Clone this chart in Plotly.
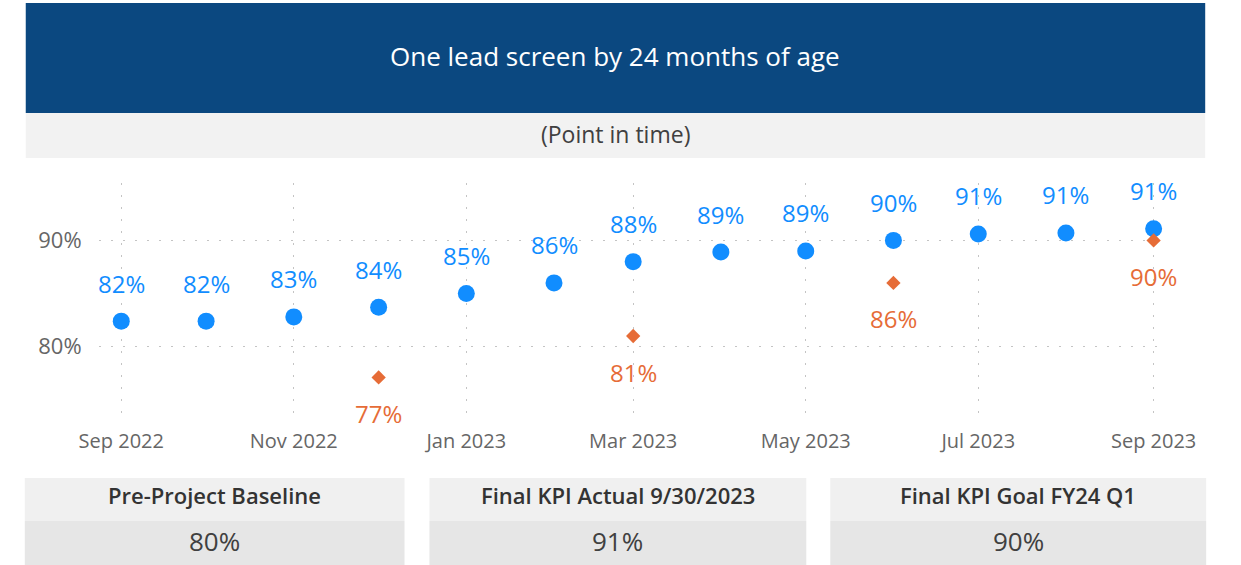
import plotly.graph_objects as go

# ---- data ----
months = ["2022-09-01", "2022-10-01", "2022-11-01", "2022-12-01", "2023-01-01",
          "2023-02-01", "2023-03-01", "2023-04-01", "2023-05-01", "2023-06-01",
          "2023-07-01", "2023-08-01", "2023-09-01"]
actual = [82.4, 82.4, 82.8, 83.7, 85.0, 86.0, 88.0, 88.9, 89.0, 90.0, 90.6, 90.7, 91.1]
actual_labels = ["82%", "82%", "83%", "84%", "85%", "86%", "88%", "89%", "89%", "90%", "91%", "91%", "91%"]

goal_months = ["2022-12-01", "2023-03-01", "2023-06-01", "2023-09-01"]
goal = [77.1, 81.0, 86.0, 90.0]
goal_labels = ["77%", "81%", "86%", "90%"]

y_tickvals = [80, 90]
y_ticktext = ["80%", "90%"]

title_text = "One lead screen by 24 months of age"
subtitle_text = "(Point in time)"
card_titles = ["Pre-Project Baseline", "Final KPI Actual 9/30/2023", "Final KPI Goal FY24 Q1"]
card_values = ["80%", "91%", "90%"]

# ---- styles ----
W, H = 1241, 565
FONT = "Open Sans"
BLUE = "#118DFF"
ORANGE = "#E66C37"
NAVY = "#0B4880"


def py(pix):
    """pixel-from-top -> paper y"""
    return 1 - pix / H


def px(pix):
    return pix / W


fig = go.Figure()

fig.add_trace(go.Scatter(
    x=months, y=actual, mode="markers",
    marker=dict(symbol="circle", size=17, color=BLUE, line=dict(width=0)),
    hoverinfo="skip", showlegend=False,
))
fig.add_trace(go.Scatter(
    x=goal_months, y=goal, mode="markers",
    marker=dict(symbol="diamond", size=11, color=ORANGE, line=dict(width=0)),
    hoverinfo="skip", showlegend=False,
))

annotations = []
for xv, yv, t in zip(months, actual, actual_labels):
    annotations.append(dict(x=xv, y=yv, xref="x", yref="y", text=t, showarrow=False,
                            yshift=38, font=dict(family=FONT, size=24, color=BLUE)))
for xv, yv, t in zip(goal_months, goal, goal_labels):
    annotations.append(dict(x=xv, y=yv, xref="x", yref="y", text=t, showarrow=False,
                            yshift=-36, font=dict(family=FONT, size=24, color=ORANGE)))

shapes = []
# title banner
shapes.append(dict(type="rect", xref="paper", yref="paper", x0=px(6), x1=px(1236),
                   y0=py(113), y1=py(3), fillcolor=NAVY, line=dict(width=0), layer="below"))
# subtitle band
shapes.append(dict(type="rect", xref="paper", yref="paper", x0=px(6), x1=px(1236),
                   y0=py(158), y1=py(113), fillcolor="#F2F2F2", line=dict(width=0), layer="below"))
annotations.append(dict(x=px(621), y=py(56), xref="paper", yref="paper", text=title_text,
                        showarrow=False, xanchor="center", yanchor="middle",
                        font=dict(family=FONT, size=26, color="white")))
annotations.append(dict(x=px(621), y=py(134), xref="paper", yref="paper", text=subtitle_text,
                        showarrow=False, xanchor="center", yanchor="middle",
                        font=dict(family=FONT, size=23, color="#404040")))

# cards
card_x = [(5, 401), (427, 820), (845, 1237)]
for (x0, x1), t, v in zip(card_x, card_titles, card_values):
    shapes.append(dict(type="rect", xref="paper", yref="paper", x0=px(x0), x1=px(x1),
                       y0=py(521), y1=py(478), fillcolor="#F0F0F0", line=dict(width=0), layer="below"))
    shapes.append(dict(type="rect", xref="paper", yref="paper", x0=px(x0), x1=px(x1),
                       y0=0, y1=py(521), fillcolor="#E6E6E6", line=dict(width=0), layer="below"))
    cx = (x0 + x1) / 2
    annotations.append(dict(x=px(cx), y=py(495), xref="paper", yref="paper", text=t,
                            showarrow=False, xanchor="center", yanchor="middle",
                            font=dict(family=FONT, size=22, color="#333333", weight=600)))
    annotations.append(dict(x=px(cx), y=py(541), xref="paper", yref="paper", text=v,
                            showarrow=False, xanchor="center", yanchor="middle",
                            font=dict(family=FONT, size=26, color="#404040")))

fig.update_layout(
    width=W, height=H, autosize=False,
    margin=dict(l=0, r=0, t=0, b=0),
    paper_bgcolor="white", plot_bgcolor="white",
    shapes=shapes, annotations=annotations,
    hovermode=False,
    xaxis=dict(
        domain=[px(82), px(1194)],
        type="date", range=["2022-08-24", "2023-09-05"],
        tick0="2022-09-01", dtick="M2", tickformat="%b %Y",
        showgrid=True, gridcolor="#C4C4C4", griddash="2px,10px", gridwidth=1,
        zeroline=False, showline=False, ticks="",
        tickfont=dict(family=FONT, size=20, color="#666666"),
        ticklabelstandoff=6,
    ),
    yaxis=dict(
        domain=[py(421), py(183)],
        range=[73, 95.4],
        tickvals=y_tickvals, ticktext=y_ticktext,
        showgrid=True, gridcolor="#C4C4C4", griddash="2px,10px", gridwidth=1,
        zeroline=False, showline=False, ticks="",
        tickfont=dict(family=FONT, size=22, color="#666666"),
        ticklabelstandoff=16,
    ),
)

POST = (
    "var gd=document.getElementById('{plot_id}');"
    "document.documentElement.style.margin='0';"
    "document.body.style.margin='0';document.body.style.padding='0';"
    "document.body.style.overflow='hidden';"
    "gd.style.position='fixed';gd.style.left='0px';gd.style.top='0px';"
    "gd.style.width='1241px';gd.style.height='565px';"
    "Plotly.relayout(gd,{width:1241,height:565});"
)

fig.write_html(
    "out.html",
    config={"displayModeBar": False, "responsive": False},
    post_script=POST,
)
